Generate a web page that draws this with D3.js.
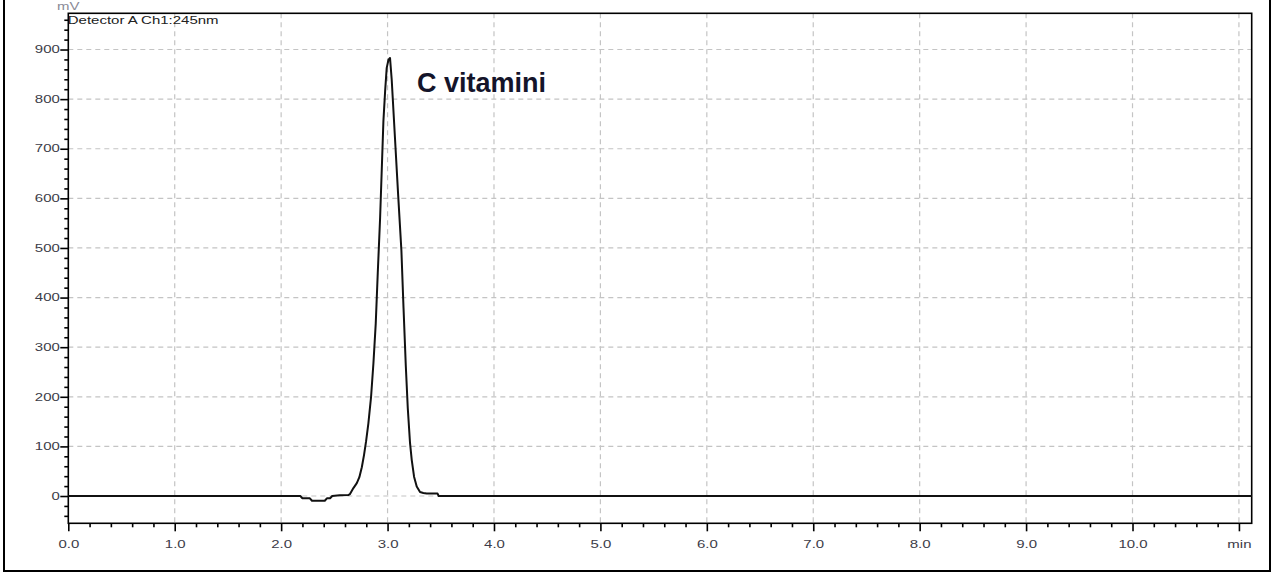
<!DOCTYPE html>
<html>
<head>
<meta charset="utf-8">
<script src="https://cdn.jsdelivr.net/npm/d3@7"></script>
<style>
  body { margin: 0; background: #fff; }
  svg { display: block; }
  .lbl { font-family: "Liberation Sans", Arial, sans-serif; font-size: 10px; fill: #3c3c48; }
</style>
</head>
<body>
<div id="graf"></div>
<script>
// retention time (min) and detector signal (mV)
const tiempos = [0, 2.18, 2.20, 2.27, 2.29, 2.41, 2.43, 2.46, 2.48, 2.55, 2.63,
  2.647, 2.679, 2.711, 2.735, 2.758, 2.779, 2.798, 2.820, 2.845, 2.867, 2.889,
  2.908, 2.930, 2.945, 2.961, 2.977, 2.992, 3.008, 3.023,
  3.039, 3.070, 3.100, 3.130, 3.150, 3.171, 3.190, 3.211, 3.227, 3.249, 3.274, 3.305,
  3.336, 3.368, 3.470, 3.480, 11.12]
const senal = [0, 0, -4.6, -4.6, -9.5, -9.5, -4.6, -4.6, 0, 1.5, 2,
  4, 16, 26, 38, 58, 83, 110, 147, 200, 267, 348,
  450, 561, 655, 756, 816, 863, 879, 883,
  839, 720, 605, 495, 379, 264, 177, 107, 73, 39, 19, 8,
  6, 5, 5, 0, 0]

const xMajor = [0, 1, 2, 3, 4, 5, 6, 7, 8, 9, 10, 11]
const xLabels = ["0.0", "1.0", "2.0", "3.0", "4.0", "5.0", "6.0", "7.0", "8.0", "9.0", "10.0", "min"]
const yMajor = [0, 100, 200, 300, 400, 500, 600, 700, 800, 900]

const titulo = "Detector A Ch1:245nm"
const unidad = "mV"
const pico = "C vitamini"

const draw = () => {
  const anchoTotal = 1275
  const altoTotal = 575
  const sx = 1.5 // the original text is stretched horizontally

  const x = d3.scaleLinear().domain([0, 11.12]).range([68.3, 1251.7])
  const y = d3.scaleLinear().domain([-55, 973]).range([523.3, 13.3])

  const svg = d3.select("#graf")
    .append("svg")
    .attr("width", anchoTotal)
    .attr("height", altoTotal)

  // outer frame
  svg.append("rect")
    .attr("x", 4).attr("y", -5)
    .attr("width", 1266).attr("height", 576)
    .attr("fill", "none").attr("stroke", "#000").attr("stroke-width", 2)

  // grid
  const grid = svg.append("g")
  grid.selectAll(".gx")
    .data(xMajor.filter((d) => d > 0))
    .join("line")
    .attr("x1", (d) => x(d)).attr("x2", (d) => x(d))
    .attr("y1", y.range()[1]).attr("y2", y.range()[0])
  grid.selectAll(".gy")
    .data(yMajor)
    .join("line")
    .attr("x1", x.range()[0]).attr("x2", x.range()[1])
    .attr("y1", (d) => y(d)).attr("y2", (d) => y(d))
  grid.selectAll("line")
    .attr("stroke", "#c4c4c4")
    .attr("stroke-width", 1.2)
    .attr("stroke-dasharray", "5,4")

  // minor ticks
  const xMinor = d3.range(0, 55).map((i) => i * 0.2).filter((d) => Math.abs(d - Math.round(d)) > 1e-6)
  const yMinor = d3.range(-40, 980, 20).filter((d) => d % 100 !== 0)

  svg.append("g")
    .attr("transform", `translate(0, ${y.range()[0]})`)
    .call(d3.axisBottom(x).tickValues(xMinor).tickSize(4).tickFormat(""))
    .call((g) => g.select(".domain").remove())
  svg.append("g")
    .attr("transform", `translate(${x.range()[0]}, 0)`)
    .call(d3.axisLeft(y).tickValues(yMinor).tickSize(4).tickFormat(""))
    .call((g) => g.select(".domain").remove())

  // major ticks
  const xAxisGroup = svg.append("g")
    .attr("transform", `translate(0, ${y.range()[0]})`)
    .call(d3.axisBottom(x).tickValues(xMajor).tickSize(8).tickPadding(10)
      .tickFormat((d, i) => xLabels[i]))
  xAxisGroup.select(".domain").remove()
  xAxisGroup.selectAll("text")
    .attr("class", "lbl")
    .attr("fill", null)
    .attr("transform", `scale(${sx},1)`)

  const yAxisGroup = svg.append("g")
    .attr("transform", `translate(${x.range()[0]}, 0)`)
    .call(d3.axisLeft(y).tickValues(yMajor).tickSize(8).tickFormat((d) => d))
  yAxisGroup.select(".domain").remove()
  yAxisGroup.selectAll("text")
    .attr("class", "lbl")
    .attr("fill", null)
    .attr("x", -8.5 / sx)
    .attr("transform", `scale(${sx},1)`)

  svg.selectAll(".tick line").attr("stroke", "#000").attr("stroke-width", 1.6)

  // plot frame
  svg.append("rect")
    .attr("x", x.range()[0]).attr("y", y.range()[1])
    .attr("width", x.range()[1] - x.range()[0])
    .attr("height", y.range()[0] - y.range()[1])
    .attr("fill", "none").attr("stroke", "#000").attr("stroke-width", 1.6)

  // chromatogram
  const datos = tiempos.map((t, i) => ({ t: t, v: senal[i] }))
  const line = d3.line().x((d) => x(d.t)).y((d) => y(d.v))
  svg.append("path")
    .datum(datos)
    .attr("d", line)
    .attr("fill", "none")
    .attr("stroke", "#111")
    .attr("stroke-width", 2)
    .attr("stroke-linejoin", "round")

  // texts
  svg.append("text")
    .attr("class", "lbl")
    .attr("transform", `translate(${x.range()[0] - 0.5}, 24) scale(${sx},1)`)
    .style("fill", "#222")
    .text(titulo)

  svg.append("text")
    .attr("class", "lbl")
    .attr("transform", `translate(${x.range()[0]}, 10) scale(${sx},1)`)
    .attr("text-anchor", "middle")
    .style("fill", "#8a8a96")
    .text(unidad)

  svg.append("text")
    .attr("x", 417)
    .attr("y", 92)
    .attr("font-family", "'Liberation Sans', Arial, sans-serif")
    .attr("font-weight", "bold")
    .attr("font-size", 27)
    .attr("fill", "#14142a")
    .text(pico)
}

draw()
</script>
</body>
</html>
